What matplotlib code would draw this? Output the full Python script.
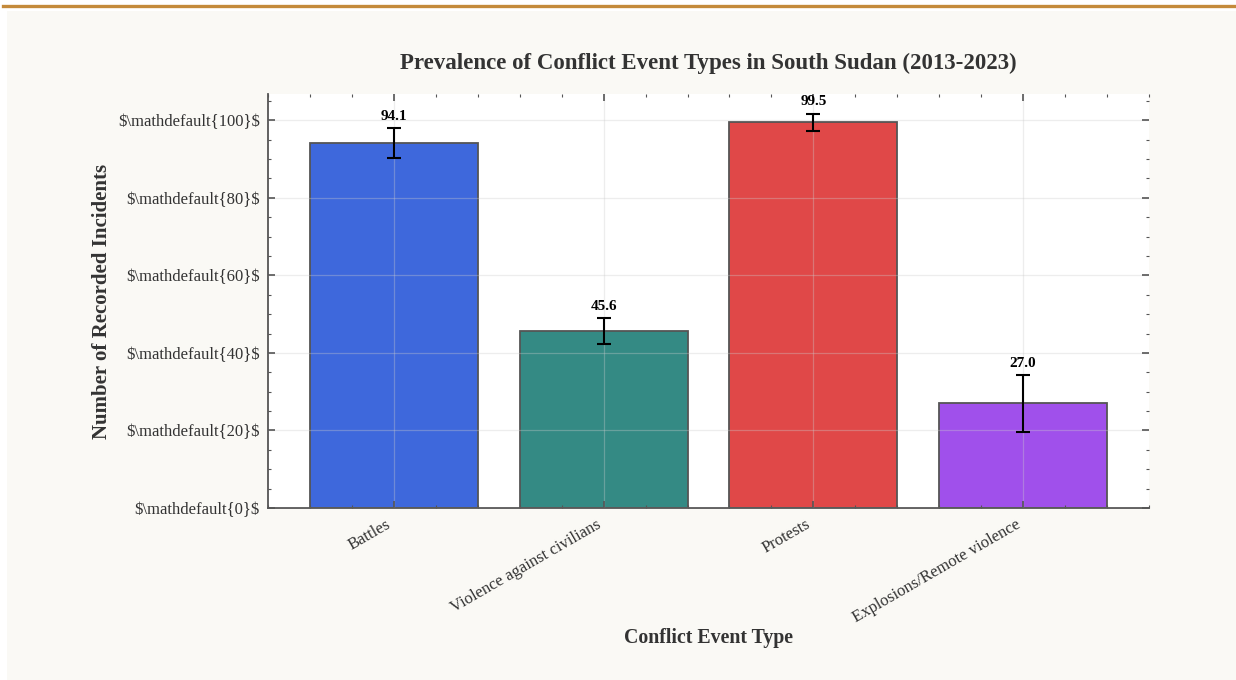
import matplotlib
matplotlib.use("Agg")
import matplotlib.pyplot as plt
from matplotlib.ticker import AutoMinorLocator, FixedLocator, FixedFormatter
from matplotlib.lines import Line2D
from matplotlib.patches import Rectangle
import numpy as np

# Event categories and recorded counts with their uncertainty
categories = ["Battles", "Violence against civilians", "Protests", "Explosions/Remote violence"]
incidents = [94.1, 45.6, 99.5, 27.0]
errors = [3.9, 3.4, 2.2, 7.3]
bar_colors = ["#3e68dc", "#348a84", "#e04848", "#a050eb"]

y_ticks = [0, 20, 40, 60, 80, 100]
y_tick_labels = [r"$\mathdefault{0}$", r"$\mathdefault{20}$", r"$\mathdefault{40}$",
                 r"$\mathdefault{60}$", r"$\mathdefault{80}$", r"$\mathdefault{100}$"]

plt.rcParams["font.family"] = ["Liberation Serif", "DejaVu Serif"]
plt.rcParams["text.parse_math"] = False

W, H = 1236, 680
fig = plt.figure(figsize=(W / 100, H / 100), dpi=100, facecolor="white")
# page panel and accent rule along the top
fig.add_artist(Rectangle((7 / W, 0), 1, 1 - 11 / H, transform=fig.transFigure,
                         facecolor="#faf9f5", edgecolor="none", zorder=-10))
fig.add_artist(Line2D([3 / W, 1], [1 - 5.5 / H, 1 - 5.5 / H], transform=fig.transFigure,
                      color="#c48a3a", linewidth=2.4))

ax = fig.add_axes([268 / W, 1 - 508 / H, (1149 - 268) / W, (508 - 94) / H])
ax.set_facecolor("white")
ax.set_axisbelow(False)

x = np.arange(len(categories))
ax.bar(x, incidents, width=0.8, color=bar_colors, edgecolor="#555555", linewidth=1.3, zorder=2)
ax.errorbar(x, incidents, yerr=errors, fmt="none", ecolor="black",
            elinewidth=1.5, capsize=5, capthick=1.5, zorder=3)

for xi, v, e in zip(x, incidents, errors):
    ax.text(xi, v + e + 1.4, f"{v:.1f}", ha="center", va="bottom",
            fontsize=11, fontweight="bold", color="black", zorder=4)

top = max(v + e for v, e in zip(incidents, errors)) * 1.05
ax.set_ylim(0, top)
ax.set_xlim(-0.6, len(categories) - 0.4)

ax.yaxis.set_major_locator(FixedLocator(y_ticks))
ax.yaxis.set_major_formatter(FixedFormatter(y_tick_labels))
ax.yaxis.set_minor_locator(AutoMinorLocator(4))
ax.set_xticks(x)
ax.set_xticklabels(categories, rotation=30, ha="right")
ax.xaxis.set_minor_locator(AutoMinorLocator(5))

ax.tick_params(axis="both", which="both", direction="in", top=True, right=True,
               colors="#555555", labelcolor="#333333")
ax.tick_params(axis="both", which="major", length=5, width=1.2, labelsize=12)
ax.tick_params(axis="y", which="major", pad=6)
ax.tick_params(axis="x", which="major", pad=6)
ax.tick_params(axis="both", which="minor", length=2.5, width=0.8)

for side in ("top", "right"):
    ax.spines[side].set_visible(False)
for side in ("left", "bottom"):
    ax.spines[side].set_color("#555555")
    ax.spines[side].set_linewidth(1.3)

ax.grid(True, which="major", color="#cccccc", alpha=0.35, linewidth=0.9, zorder=2.5)

ax.set_title("Prevalence of Conflict Event Types in South Sudan (2013-2023)",
             fontsize=16.5, fontweight="bold", color="#333333", pad=18)
ax.set_xlabel("Conflict Event Type", fontsize=14.3, fontweight="bold", color="#333333", labelpad=2)
ax.set_ylabel("Number of Recorded Incidents", fontsize=15, fontweight="bold", color="#333333", labelpad=4)

fig.savefig("out.png", dpi=100, facecolor=fig.get_facecolor())
